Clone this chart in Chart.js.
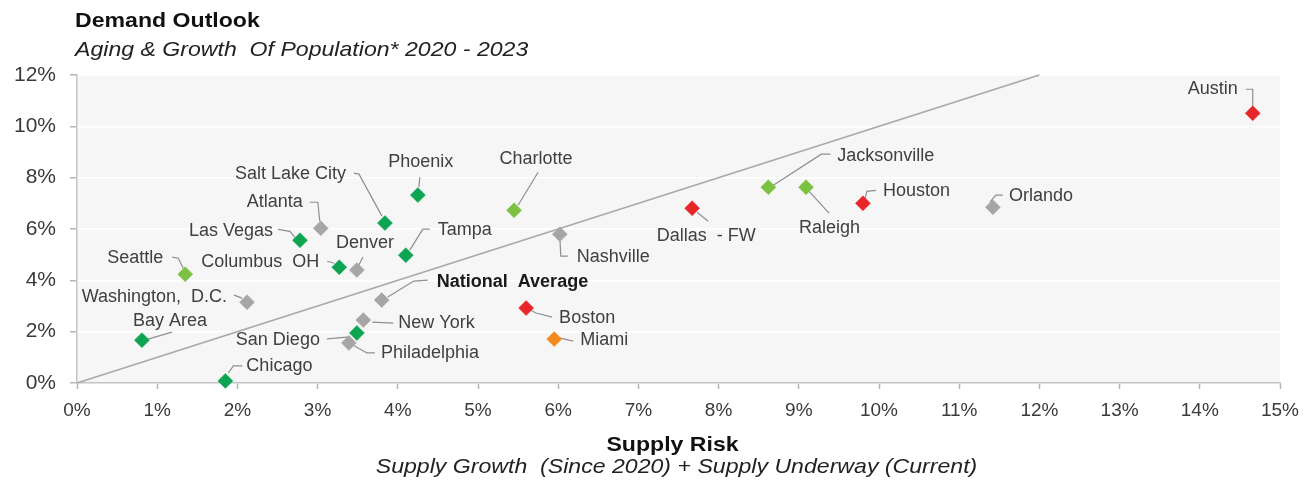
<!DOCTYPE html>
<html>
<head>
<meta charset="utf-8">
<script src="https://cdn.jsdelivr.net/npm/chart.js@4.4.1/dist/chart.umd.min.js"></script>
<style>
  html, body { margin: 0; padding: 0; background: #fff; }
  #contenedor { width: 1313px; height: 487px; position: relative; }
</style>
</head>
<body>
<div id="contenedor"><canvas id="grafico"></canvas></div>
<script>
// ciudades: riesgo de oferta (eje x) y demanda (eje y), en %
const ciudades = ['National  Average', 'Atlanta', 'Denver', 'Washington,  D.C.', 'New York', 'Philadelphia', 'Nashville', 'Orlando',
  'Phoenix', 'Salt Lake City', 'Las Vegas', 'Tampa', 'Columbus  OH', 'San Diego', 'Bay Area', 'Chicago',
  'Charlotte', 'Jacksonville', 'Raleigh', 'Seattle',
  'Dallas  - FW', 'Houston', 'Austin', 'Boston',
  'Miami']
const riesgoOferta = [3.80, 3.04, 3.49, 2.12, 3.57, 3.39, 6.02, 11.42,
  4.25, 3.84, 2.78, 4.10, 3.27, 3.49, 0.81, 1.85,
  5.45, 8.62, 9.09, 1.35,
  7.67, 9.80, 14.66, 5.60,
  5.95]
const demanda = [3.23, 6.03, 4.40, 3.15, 2.45, 1.56, 5.80, 6.85,
  7.32, 6.23, 5.56, 4.98, 4.51, 1.95, 1.67, 0.08,
  6.73, 7.63, 7.63, 4.24,
  6.81, 7.00, 10.51, 2.92,
  1.71]
const grupos = ['gris', 'gris', 'gris', 'gris', 'gris', 'gris', 'gris', 'gris',
  'verde', 'verde', 'verde', 'verde', 'verde', 'verde', 'verde', 'verde',
  'verdeClaro', 'verdeClaro', 'verdeClaro', 'verdeClaro',
  'rojo', 'rojo', 'rojo', 'rojo',
  'naranja']
// linea de referencia 1:1
const diagonal = [{ x: 0, y: 0 }, { x: 12, y: 12 }]
const ticksX = [0, 15, 1]
const ticksY = [0, 12, 2]

const colores = {
  gris: '#a6a6a6',
  verde: '#0ea552',
  verdeClaro: '#7cc142',
  rojo: '#e8262a',
  naranja: '#f28a1e'
}

// posicion de cada etiqueta y su linea guia, en px respecto al punto
const etiquetas = {
  'National  Average': { t: [55, -18], a: 'left', negrita: true, l: [[46, -20], [32, -19], [6, -3]] },
  'Atlanta': { t: [-18, -26], a: 'right', l: [[-11, -26], [-3, -26], [-1, -7]] },
  'Denver': { t: [8, -27], a: 'center', l: [[6, -13], [1, -3]] },
  'Washington,  D.C.': { t: [-20, -5], a: 'right', l: [[-13, -7], [-5, -4]] },
  'New York': { t: [35, 3], a: 'left', l: [[30, 3], [9, 2]] },
  'Philadelphia': { t: [32, 10], a: 'left', l: [[26, 10], [18, 10], [4, 2]] },
  'Nashville': { t: [17, 23], a: 'left', l: [[0, 3], [1, 22], [8, 22]] },
  'Orlando': { t: [16, -11], a: 'left', l: [[-3, -5], [3, -12], [10, -12]] },
  'Phoenix': { t: [3, -33], a: 'center', l: [[1, -8], [2, -18]] },
  'Salt Lake City': { t: [-39, -49], a: 'right', l: [[-31, -50], [-26, -49], [-3, -7]] },
  'Las Vegas': { t: [-27, -9], a: 'right', l: [[-22, -11], [-10, -9], [-5, -3]] },
  'Tampa': { t: [32, -25], a: 'left', l: [[24, -26], [17, -26], [4, -5]] },
  'Columbus  OH': { t: [-20, -5], a: 'right', l: [[-12, -6], [-5, -4]] },
  'San Diego': { t: [-37, 7], a: 'right', l: [[-30, 6], [-7, 4]] },
  'Bay Area': { t: [28, -19], a: 'center', l: [[30, -8], [6, -1]] },
  'Chicago': { t: [21, -15], a: 'left', l: [[17, -15], [8, -15], [3, -8]] },
  'Charlotte': { t: [22, -51], a: 'center', l: [[24, -38], [4, -5]] },
  'Jacksonville': { t: [69, -31], a: 'left', l: [[5, -2], [53, -33], [62, -33]] },
  'Raleigh': { t: [-7, 41], a: 'left', l: [[2, 3], [23, 26]] },
  'Seattle': { t: [-22, -16], a: 'right', l: [[-13, -17], [-7, -16], [-2, -6]] },
  'Dallas  - FW': { t: [14, 28], a: 'center', l: [[5, 4], [16, 13]] },
  'Houston': { t: [20, -12], a: 'left', l: [[2, -5], [4, -12], [13, -13]] },
  'Austin': { t: [-15, -24], a: 'right', l: [[-7, -24], [0, -24], [0, -6]] },
  'Boston': { t: [33, 10], a: 'left', l: [[4, 2], [10, 5], [26, 9]] },
  'Miami': { t: [26, 1], a: 'left', l: [[6, -1], [19, 2]] }
}

const fuente = "'Liberation Sans', Arial, sans-serif"

// texto algo ensanchado en horizontal (titulos)
function textoAncho(ctx, txt, x, y, align, esc) {
  ctx.save()
  ctx.translate(x, y)
  ctx.scale(esc, 1)
  ctx.textAlign = align
  ctx.fillText(txt, 0, 0)
  ctx.restore()
}

// fondo gris del area de trazado
const fondo = {
  id: 'fondo',
  beforeDraw(chart) {
    const { ctx, chartArea: a } = chart
    ctx.save()
    ctx.fillStyle = '#f6f6f6'
    ctx.fillRect(a.left, a.top, a.right - a.left, a.bottom - a.top)
    ctx.restore()
  }
}

// lineas guia debajo de los marcadores, textos encima
const rotulos = {
  id: 'rotulos',
  beforeDatasetsDraw(chart) {
    const ctx = chart.ctx
    const meta = chart.getDatasetMeta(0)
    ctx.save()
    ctx.strokeStyle = '#8f8f8f'
    ctx.lineWidth = 1.2
    ciudades.forEach((c, i) => {
      const e = etiquetas[c]
      const p = meta.data[i]
      ctx.beginPath()
      e.l.forEach(([dx, dy], k) => {
        if (k === 0) ctx.moveTo(p.x + dx, p.y + dy)
        else ctx.lineTo(p.x + dx, p.y + dy)
      })
      ctx.stroke()
    })
    ctx.restore()
  },
  afterDatasetsDraw(chart) {
    const ctx = chart.ctx
    const meta = chart.getDatasetMeta(0)
    ctx.save()
    ctx.textBaseline = 'middle'
    ciudades.forEach((c, i) => {
      const e = etiquetas[c]
      const p = meta.data[i]
      ctx.fillStyle = e.negrita ? '#1a1a1a' : '#404040'
      ctx.font = (e.negrita ? 'bold ' : '') + '18px ' + fuente
      ctx.textAlign = e.a
      ctx.fillText(c, p.x + e.t[0], p.y + e.t[1])
    })
    ctx.restore()
  },
  afterDraw(chart) {
    const { ctx, chartArea: a } = chart
    const centro = (a.left + a.right) / 2
    ctx.save()
    ctx.textBaseline = 'middle'
    ctx.fillStyle = '#111'
    ctx.font = 'bold 21px ' + fuente
    textoAncho(ctx, 'Demand Outlook', 75, 21, 'left', 1.1)
    textoAncho(ctx, 'Supply Risk', centro - 6, 445, 'center', 1.1)
    ctx.fillStyle = '#222'
    ctx.font = 'italic 21px ' + fuente
    textoAncho(ctx, 'Aging & Growth  Of Population* 2020 - 2023', 75, 50, 'left', 1.1)
    textoAncho(ctx, 'Supply Growth  (Since 2020) + Supply Underway (Current)', centro - 2, 467, 'center', 1.1)
    ctx.restore()
  }
}

new Chart(document.getElementById('grafico'), {
  data: {
    datasets: [{
      type: 'scatter',
      label: 'ciudades',
      data: riesgoOferta.map((x, i) => ({ x: x, y: demanda[i] })),
      pointStyle: 'rectRot',
      pointRadius: 7.5,
      pointHoverRadius: 7.5,
      pointBackgroundColor: grupos.map(g => colores[g]),
      pointBorderColor: grupos.map(g => colores[g]),
      pointBorderWidth: 0.5,
      clip: false
    }, {
      type: 'line',
      label: 'referencia',
      data: diagonal,
      borderColor: '#a8a8a8',
      borderWidth: 1.5,
      pointRadius: 0,
      clip: false
    }]
  },
  options: {
    responsive: true,
    maintainAspectRatio: false,
    animation: false,
    events: [],
    layout: { padding: { top: 75, right: 33, left: 0, bottom: 0 } },
    plugins: {
      legend: { display: false },
      tooltip: { enabled: false }
    },
    scales: {
      x: {
        type: 'linear',
        min: ticksX[0],
        max: ticksX[1],
        afterFit(s) { s.height = 104 },
        ticks: {
          stepSize: ticksX[2],
          padding: 10,
          color: '#3a3a3a',
          font: { family: fuente, size: 19 },
          callback: v => v + '%'
        },
        grid: { drawOnChartArea: false, tickLength: 6, tickColor: '#b5b5b5', tickWidth: 1.5 },
        border: { color: '#c4c4c4', width: 1.5 }
      },
      y: {
        type: 'linear',
        min: ticksY[0],
        max: ticksY[1],
        afterFit(s) { s.width = 77 },
        ticks: {
          stepSize: ticksY[2],
          padding: 14,
          color: '#3a3a3a',
          font: { family: fuente, size: 21 },
          callback: v => v + '%'
        },
        grid: { color: '#ffffff', lineWidth: 1.5, tickLength: 7, tickColor: '#b5b5b5', tickWidth: 1.5 },
        border: { color: '#c4c4c4', width: 1.5 }
      }
    }
  },
  plugins: [fondo, rotulos]
})
</script>
</body>
</html>
